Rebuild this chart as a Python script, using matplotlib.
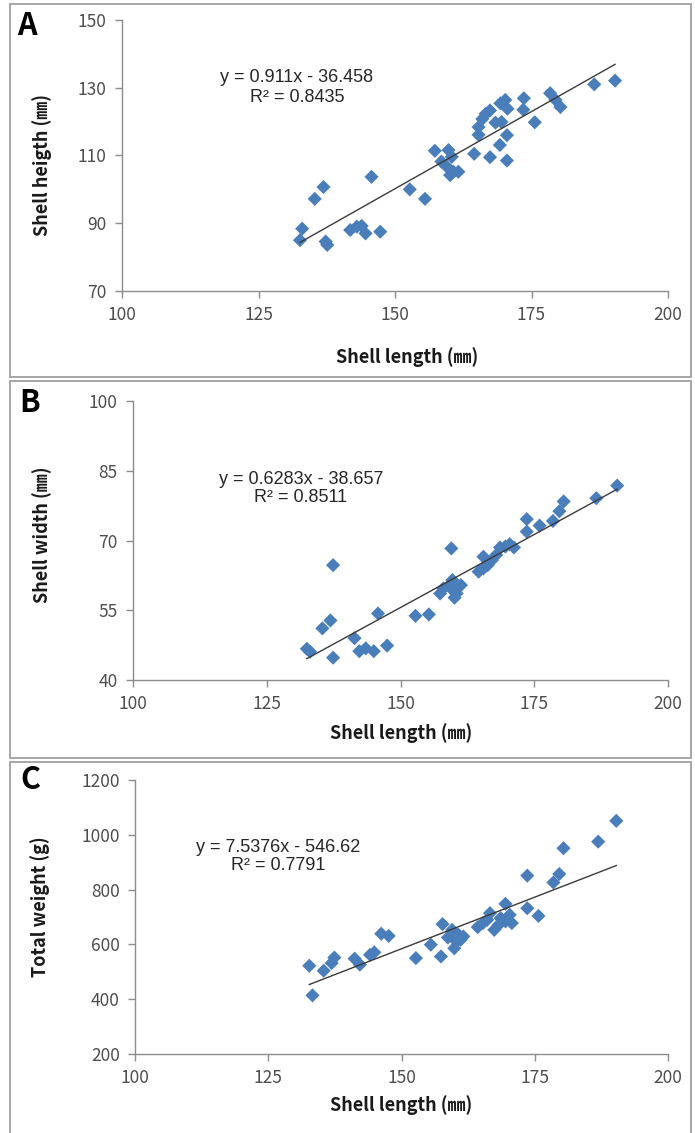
import matplotlib
matplotlib.use("Agg")
import matplotlib.pyplot as plt
from matplotlib.patches import Rectangle

# ---------------- data ----------------
# Panel A: shell length vs shell height
a_length = [132.6, 133.0, 135.3, 136.9, 137.3, 137.6, 141.8, 143.0, 143.9, 144.6,
            145.7, 147.3, 152.7, 155.5, 157.3, 158.5, 159.8, 160.4, 159.5, 160.7,
            160.1, 161.6, 164.5, 167.4, 170.5, 169.2, 170.5, 165.3, 165.3, 166.0,
            166.6, 167.4, 168.4, 169.5, 169.3, 170.2, 170.6, 173.6, 173.5, 175.6,
            178.4, 179.4, 180.3, 186.5, 190.3]
a_height = [85.0, 88.4, 97.2, 100.7, 84.6, 83.6, 88.0, 89.0, 89.2, 87.0,
            103.7, 87.5, 100.0, 97.2, 111.4, 108.2, 111.6, 109.6, 106.7, 105.2,
            104.2, 105.2, 110.5, 109.5, 108.5, 113.1, 116.0, 116.1, 118.4, 120.8,
            122.3, 123.3, 119.7, 119.9, 125.4, 126.4, 123.8, 126.9, 123.5, 119.8,
            128.4, 126.4, 124.3, 131.0, 132.1]
a_fit = (0.911, -36.458)
a_eq = ["y = 0.911x - 36.458", "R² = 0.8435"]

# Panel B: shell length vs shell width
b_length = [132.5, 133.1, 135.4, 136.9, 137.4, 137.4, 141.4, 142.3, 143.5, 145.0,
            145.8, 147.5, 152.8, 155.3, 157.4, 158.0, 159.5, 159.2, 159.7, 160.1,
            160.5, 161.3, 159.7, 164.6, 165.5, 165.5, 166.3, 167.1, 167.9, 168.6,
            169.6, 170.4, 171.2, 173.6, 173.6, 176.0, 178.5, 179.7, 180.5, 186.6,
            190.5]
b_width = [46.7, 46.1, 51.1, 52.8, 64.7, 44.8, 49.0, 46.2, 46.8, 46.2,
           54.3, 47.4, 53.8, 54.1, 58.6, 59.7, 68.3, 60.4, 59.4, 57.7,
           58.6, 60.4, 61.5, 63.3, 64.0, 66.5, 64.7, 65.8, 66.9, 68.5,
           68.7, 69.2, 68.5, 71.9, 74.6, 73.2, 74.2, 76.3, 78.4, 79.1,
           81.8]
b_fit = (0.6283, -38.657)
b_eq = ["y = 0.6283x - 38.657", "R² = 0.8511"]

# Panel C: shell length vs total weight
c_length = [132.7, 133.3, 135.4, 136.9, 137.4, 141.2, 142.2, 144.1, 144.9, 146.2,
            147.6, 152.7, 155.5, 157.4, 157.7, 158.7, 159.5, 159.9, 160.3, 160.7,
            161.1, 161.6, 164.3, 165.3, 166.1, 166.6, 167.4, 168.2, 168.6, 169.5,
            169.5, 170.3, 170.7, 173.6, 173.6, 175.7, 178.5, 179.6, 180.4, 186.9,
            190.3]
c_weight = [522, 414, 504, 532, 552, 548, 526, 562, 571, 639,
            631, 550, 599, 556, 674, 625, 653, 586, 611, 635,
            617, 629, 663, 678, 690, 714, 653, 671, 696, 748,
            684, 708, 678, 732, 851, 704, 826, 857, 951, 975,
            1051]
c_fit = (7.5376, -546.62)
c_eq = ["y = 7.5376x - 546.62", "R² = 0.7791"]

x_ticks = [100, 125, 150, 175, 200]
a_yticks = [70, 90, 110, 130, 150]
b_yticks = [40, 55, 70, 85, 100]
c_yticks = [200, 400, 600, 800, 1000, 1200]

letters = ["A", "B", "C"]
xlabel = "Shell length (㎜)"
ylabels = ["Shell heigth (㎜)", "Shell width (㎜)", "Total weight (g)"]

# ---------------- layout ----------------
W, H = 695, 1133
fig = plt.figure(figsize=(W / 100, H / 100), dpi=100)
fig.patch.set_facecolor("white")

KR = ["Noto Sans CJK KR", "DejaVu Sans"]
EQ = ["Liberation Sans", "DejaVu Sans"]
MARK = "#4A7EBB"
AXC = "#8C8C8C"
TXT = "#4D4D4D"


def fx(px):
    return px / W


def fy(py):
    return 1 - py / H


# panel frames (pixel boxes)
frames = [(10, 4, 691, 377), (10, 381, 691, 758), (10, 762, 691, 1140)]
for (x0, y0, x1, y1) in frames:
    fig.patches.append(Rectangle((fx(x0), fy(y1)), fx(x1) - fx(x0), fy(y0) - fy(y1),
                                 transform=fig.transFigure, fill=False,
                                 edgecolor="#A6A6A6", linewidth=1.4, zorder=0))

# axes boxes in pixels: left, right, top, bottom
boxes = [(122, 668, 20, 291), (133, 668, 401, 680), (135, 668, 780, 1054)]
datasets = [(a_length, a_height, a_fit, a_eq, a_yticks),
            (b_length, b_width, b_fit, b_eq, b_yticks),
            (c_length, c_weight, c_fit, c_eq, c_yticks)]
eq_pos = [(297, 77, 97), (301, 479, 498), (278, 847, 866)]
xlabel_pos = [(407, 357), (401, 733), (401, 1105)]
ylabel_pos = [(42, 165), (42, 535), (40, 907)]
letter_pos = [(27, 26), (30, 403), (30, 780)]

for i in range(3):
    l, r, t, b = boxes[i]
    ax = fig.add_axes([fx(l), fy(b), fx(r) - fx(l), fy(t) - fy(b)])
    xs, ys, fit, eq, yt = datasets[i]
    ax.scatter(xs, ys, marker="D", s=52, color=MARK, edgecolors="none", zorder=3)
    x0, x1 = min(xs), max(xs)
    ax.plot([x0, x1], [fit[0] * x0 + fit[1], fit[0] * x1 + fit[1]],
            color="#3A3A3A", linewidth=1.0, zorder=4)
    ax.set_xlim(x_ticks[0], x_ticks[-1])
    ax.set_ylim(yt[0], yt[-1])
    ax.set_xticks(x_ticks)
    ax.set_yticks(yt)
    for s in ["top", "right"]:
        ax.spines[s].set_visible(False)
    for s in ["left", "bottom"]:
        ax.spines[s].set_color(AXC)
        ax.spines[s].set_linewidth(1.0)
    ax.tick_params(direction="out", length=5, width=1.0, color=AXC,
                   labelcolor=TXT, labelsize=12.5, pad=6)
    for lab in ax.get_xticklabels() + ax.get_yticklabels():
        lab.set_family(KR)
    ax.set_facecolor("white")

    cx, y1p, y2p = eq_pos[i]
    fig.text(fx(cx), fy(y1p), eq[0], ha="center", va="center",
             fontsize=13, family=EQ, color="#262626")
    fig.text(fx(cx), fy(y2p), eq[1], ha="center", va="center",
             fontsize=13, family=EQ, color="#262626")

    fig.text(fx(xlabel_pos[i][0]), fy(xlabel_pos[i][1]), xlabel, ha="center",
             va="center", fontsize=13, fontweight="bold", family=KR, color="#1a1a1a")
    fig.text(fx(ylabel_pos[i][0]), fy(ylabel_pos[i][1]), ylabels[i], ha="center",
             va="center", rotation=90, fontsize=13, fontweight="bold", family=KR,
             color="#1a1a1a")
    fig.text(fx(letter_pos[i][0]), fy(letter_pos[i][1]), letters[i], ha="center",
             va="center", fontsize=22, fontweight="bold", family=KR, color="black")

fig.savefig("out.png", dpi=100, facecolor="white")
